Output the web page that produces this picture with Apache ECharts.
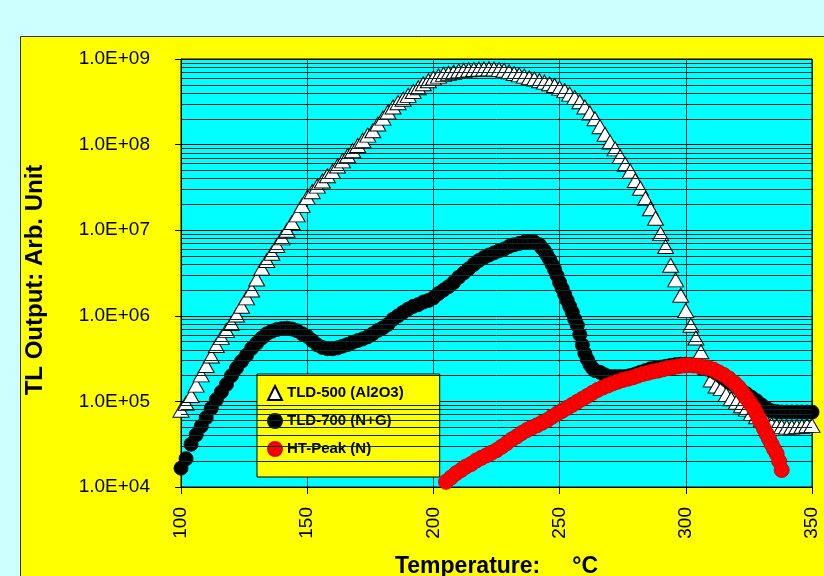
<!DOCTYPE html>
<html>
<head>
<meta charset="utf-8">
<script src="https://cdn.jsdelivr.net/npm/echarts@6/dist/echarts.min.js"></script>
<style>
html,body{margin:0;padding:0;background:#ccffff;}
#c{width:824px;height:576px;}
</style>
</head>
<body>
<div id="c"></div>
<script>
// ---- Data ----
const seriesNames = ['TLD-500 (Al2O3)', 'TLD-700 (N+G)', 'HT-Peak (N)'];
const xTickValues = [100, 150, 200, 250, 300, 350];
const yDecades = [1e4, 1e5, 1e6, 1e7, 1e8, 1e9];
const xTitle = 'Temperature:     °C';
const yTitle = 'TL Output: Arb. Unit';

const tld500Temp = [100,102,104,106,108,110,112,114,116,118,120,122,124,126,128,130,132,134,136,138,
140,142,144,146,148,150,152,154,156,158,160,162,164,166,168,170,172,174,176,178,
180,182,184,186,188,190,192,194,196,198,200,202,204,206,208,210,212,214,216,218,
220,222,224,226,228,230,232,234,236,238,240,242,244,246,248,250,252,254,256,258,
260,262,264,266,268,270,272,274,276,278,280,282,284,286,288,290,292,294,296,298,
300,302,304,306,308,310,312,314,316,318,320,322,324,326,328,330,332,334,336,338,
340,342,344,346,348,350];
const tld500Value = [7.9e4,9.5e4,1.17e5,1.55e5,2.04e5,2.63e5,3.39e5,4.5e5,5.56e5,6.76e5,
8.13e5,1.02e6,1.29e6,1.62e6,2.0e6,2.69e6,3.59e6,4.42e6,5.37e6,6.61e6,
8.13e6,1.0e7,1.23e7,1.51e7,1.95e7,2.4e7,2.82e7,3.27e7,3.76e7,4.32e7,
4.84e7,5.62e7,6.46e7,7.41e7,8.51e7,9.77e7,1.12e8,1.29e8,1.45e8,1.74e8,
2.04e8,2.4e8,2.75e8,3.09e8,3.39e8,3.76e8,4.17e8,4.62e8,5.13e8,5.56e8,
6.0e8,6.31e8,6.61e8,6.81e8,7.0e8,7.24e8,7.36e8,7.46e8,7.55e8,7.62e8,
7.66e8,7.67e8,7.64e8,7.55e8,7.38e8,7.08e8,6.76e8,6.53e8,6.31e8,6.03e8,
5.82e8,5.56e8,5.37e8,5.13e8,4.9e8,4.57e8,4.27e8,3.89e8,3.55e8,3.16e8,
2.75e8,2.34e8,2.0e8,1.62e8,1.32e8,1.07e8,8.91e7,7.24e7,5.89e7,4.9e7,
3.8e7,3.09e7,2.34e7,1.78e7,1.38e7,9.12e6,6.46e6,3.89e6,2.63e6,1.74e6,
1.15e6,7.76e5,5.5e5,3.8e5,2.51e5,1.78e5,1.51e5,1.41e5,1.2e5,1.07e5,
9.77e4,8.91e4,8.13e4,7.24e4,6.61e4,6.17e4,5.75e4,5.37e4,5.19e4,5.07e4,
5.01e4,5.01e4,5.07e4,5.13e4,5.25e4,5.25e4];

const tld700Temp = [100,102,104,106,108,110,112,114,116,118,120,122,124,126,128,130,132,134,136,138,
140,142,144,146,148,150,152,154,156,158,160,162,164,166,168,170,172,174,176,178,
180,182,184,186,188,190,192,194,196,198,200,202,204,206,208,210,212,214,216,218,
220,222,224,226,228,230,232,234,236,238,240,
242,243,244,245,246,247,248,249,250,251,252,253,254,255,256,257,258,259,260,261,262,263,264,
266,268,270,272,274,276,278,280,282,284,286,288,290,292,294,296,298,300,302,304,
306,308,310,312,314,316,318,320,322,324,326,328,330,332,334,336,338,340,342,344,346,348,350];
const tld700Value = [1.66e4,2.14e4,3.16e4,4.07e4,5.13e4,6.46e4,8.32e4,1.05e5,1.29e5,1.58e5,
2.0e5,2.45e5,2.95e5,3.47e5,4.17e5,4.79e5,5.5e5,6.17e5,6.61e5,6.92e5,
7.08e5,7.16e5,7.0e5,6.68e5,6.17e5,5.75e5,5.13e5,4.57e5,4.27e5,4.12e5,
4.12e5,4.22e5,4.42e5,4.62e5,4.9e5,5.13e5,5.37e5,5.69e5,6.17e5,6.76e5,
7.24e5,7.94e5,9.12e5,1.0e6,1.1e6,1.2e6,1.29e6,1.35e6,1.45e6,1.51e6,
1.62e6,1.82e6,2.0e6,2.19e6,2.45e6,2.82e6,3.16e6,3.55e6,3.98e6,4.42e6,
4.79e6,5.13e6,5.43e6,5.75e6,6.03e6,6.46e6,6.76e6,7.0e6,7.24e6,7.33e6,7.24e6,
6.76e6,6.17e6,5.75e6,5.13e6,4.57e6,3.98e6,3.47e6,2.95e6,2.45e6,2.09e6,1.78e6,1.51e6,
1.29e6,1.1e6,9.12e5,7.76e5,6.03e5,4.57e5,3.63e5,3.09e5,2.69e5,2.45e5,2.29e5,
2.19e5,2.04e5,1.95e5,1.95e5,1.95e5,1.95e5,2.0e5,2.09e5,2.19e5,2.29e5,
2.4e5,2.45e5,2.51e5,2.57e5,2.63e5,2.69e5,2.72e5,2.72e5,2.69e5,2.63e5,
2.51e5,2.4e5,2.29e5,2.14e5,1.95e5,1.78e5,1.62e5,1.48e5,1.35e5,1.23e5,
1.12e5,1.02e5,9.12e4,8.32e4,7.76e4,7.59e4,7.5e4,7.5e4,7.5e4,7.5e4,
7.5e4,7.5e4,7.5e4];

const htPeakTemp = [205,207,209,211,213,215,217,219,221,223,225,227,229,231,233,235,237,239,241,243,
245,247,249,251,253,255,257,259,261,263,265,267,269,271,273,275,277,279,281,283,
285,287,289,291,293,295,297,299,301,303,305,307,309,311,313,315,317,319,
320,321,322,323,324,325,326,327,328,329,330,331,332,333,334,335,336,337,338];
const htPeakValue = [1.15e4,1.29e4,1.45e4,1.58e4,1.74e4,1.86e4,2.04e4,2.19e4,2.34e4,2.51e4,
2.69e4,2.95e4,3.24e4,3.59e4,3.89e4,4.27e4,4.62e4,4.95e4,5.25e4,5.62e4,
6.03e4,6.61e4,7.16e4,7.76e4,8.41e4,9.12e4,9.89e4,1.07e5,1.16e5,1.26e5,
1.36e5,1.45e5,1.53e5,1.62e5,1.7e5,1.78e5,1.84e5,1.91e5,2.0e5,2.09e5,
2.16e5,2.24e5,2.29e5,2.37e5,2.45e5,2.51e5,2.57e5,2.63e5,2.66e5,2.63e5,
2.6e5,2.51e5,2.45e5,2.34e5,2.19e5,2.04e5,1.86e5,1.66e5,
1.55e5,1.45e5,1.32e5,1.2e5,1.1e5,1.0e5,9.12e4,8.32e4,7.24e4,6.31e4,
5.5e4,4.79e4,4.17e4,3.63e4,3.16e4,2.75e4,2.45e4,2.0e4,1.58e4];

// minor log gridlines (2..9 x each decade)
const minorGridValues = [2e4,3e4,4e4,5e4,6e4,7e4,8e4,9e4,
2e5,3e5,4e5,5e5,6e5,7e5,8e5,9e5,
2e6,3e6,4e6,5e6,6e6,7e6,8e6,9e6,
2e7,3e7,4e7,5e7,6e7,7e7,8e7,9e7,
2e8,3e8,4e8,5e8,6e8,7e8,8e8,9e8];

const zip = (xs, ys) => xs.map((x, i) => [x, ys[i]]);
const FONT = "'Liberation Sans', Arial, sans-serif";

const chart = echarts.init(document.getElementById('c'), null, {renderer: 'canvas'});
chart.setOption({
  backgroundColor: '#ccffff',
  animation: false,
  graphic: [{
    type: 'rect', z: -100, silent: true,
    shape: {x: 20.5, y: 36.5, width: 900, height: 700},
    style: {fill: '#ffff00', stroke: '#333333', lineWidth: 1}
  }, {
    type: 'text', z: 10, silent: true,
    x: 35, y: 280, rotation: Math.PI / 2,
    style: {text: yTitle, fill: '#000', font: "bold 24px 'Liberation Sans', Arial, sans-serif",
      align: 'center', verticalAlign: 'middle'}
  }],
  grid: {
    left: 181, top: 59, width: 631, height: 428,
    containLabel: false,
    outerBoundsMode: 'none',
    show: true, backgroundColor: '#00ffff', borderColor: '#000', borderWidth: 1
  },
  legend: {
    data: seriesNames,
    orient: 'vertical',
    left: 257, top: 374,
    backgroundColor: '#ffff00',
    borderColor: '#000', borderWidth: 1,
    padding: [11, 36, 20, 10],
    itemWidth: 14, itemHeight: 14, itemGap: 12,
    textStyle: {fontFamily: FONT, fontSize: 15, fontWeight: 'bold', color: '#000'}
  },
  xAxis: {
    type: 'value', min: 100, max: 350, interval: 50,
    name: xTitle, nameLocation: 'middle', nameGap: 68,
    nameTextStyle: {fontFamily: FONT, fontSize: 23, fontWeight: 'bold', color: '#000'},
    axisLine: {lineStyle: {color: '#000', width: 1}},
    axisTick: {show: true, length: 7, lineStyle: {color: '#000'}},
    axisLabel: {rotate: 90, margin: 20, fontFamily: FONT, fontSize: 19, color: '#000',
      formatter: v => xTickValues.includes(v) ? String(v) : ''},
    splitLine: {show: true, lineStyle: {color: '#0a3a3a', width: 1}}
  },
  yAxis: {
    type: 'log', logBase: 10, min: 1e4, max: 1e9,
    axisLine: {show: true, lineStyle: {color: '#000', width: 1}},
    axisTick: {show: true, length: 6, lineStyle: {color: '#000'}},
    axisLabel: {margin: 31, fontFamily: FONT, fontSize: 19, color: '#000',
      formatter: v => {
        const e = Math.round(Math.log10(v));
        return yDecades.includes(Math.pow(10, e)) ? '1.0E+' + (e < 10 ? '0' : '') + e : '';
      }},
    splitLine: {show: true, lineStyle: {color: '#000', width: 1}}
  },
  series: [
    {
      name: 'minor-grid', type: 'line', data: [], z: 1, silent: true,
      markLine: {
        silent: true, symbol: 'none', animation: false,
        label: {show: false},
        lineStyle: {color: '#0a2a2a', width: 1, type: 'solid'},
        emphasis: {disabled: true},
        data: minorGridValues.map(v => ({yAxis: v}))
      }
    },
    {
      name: seriesNames[0], type: 'scatter', z: 3,
      symbol: 'triangle', symbolSize: [16, 14],
      itemStyle: {color: '#ffffff', borderColor: '#000', borderWidth: 1, opacity: 1},
      data: zip(tld500Temp, tld500Value)
    },
    {
      name: seriesNames[1], type: 'scatter', z: 4,
      symbol: 'circle', symbolSize: 14,
      itemStyle: {color: '#000000', borderColor: '#111', borderWidth: 1, opacity: 1},
      data: zip(tld700Temp, tld700Value)
    },
    {
      name: seriesNames[2], type: 'scatter', z: 5,
      symbol: 'circle', symbolSize: 15,
      itemStyle: {color: '#ff0000', borderColor: '#e00000', borderWidth: 1, opacity: 1},
      data: zip(htPeakTemp, htPeakValue)
    }
  ]
});
</script>
</body>
</html>
